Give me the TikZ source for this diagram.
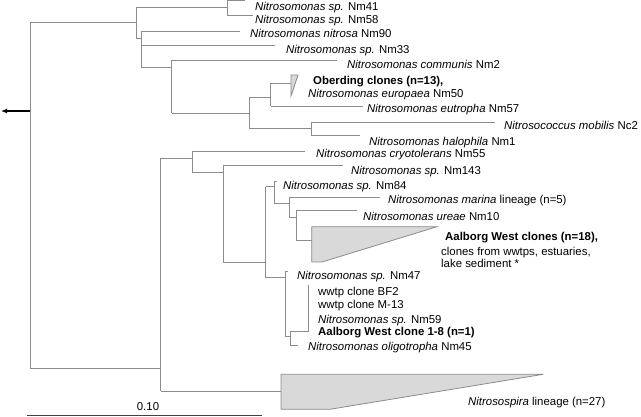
\documentclass[tikz,border=0pt]{standalone}
\usepackage{fontspec}
\setmainfont{Liberation Sans}
\usetikzlibrary{arrows.meta}
\definecolor{treegray}{RGB}{140,140,140}
\definecolor{trifill}{RGB}{217,217,217}
\begin{document}
\begin{tikzpicture}[x=1pt,y=-1pt,
  br/.style={draw=treegray,line width=0.9pt},
  clade/.style={draw=treegray,fill=trifill,line width=0.8pt,line join=miter},
  lab/.style={anchor=base west,inner sep=0pt,font=\fontsize{11.4}{13}\selectfont},
  blab/.style={lab,font=\fontsize{11.4}{13}\selectfont\bfseries}]
\useasboundingbox (0,0) rectangle (641,417);
% root and arrow
\coordinate (root) at (30,111);
\coordinate (out) at (1,111);
\draw[-{Latex[length=6pt,width=5pt]},line width=1.3pt] (root) -- (out);
\draw[br] (30,22.7) -- (30,368);
\draw[br] (30,22.7) -- (136.3,22.7);
\draw[br] (30,368) -- (160.7,368);
% upper clade
\draw[br] (136.3,7.3) -- (136.3,38.3);
\draw[br] (136.3,7.3) -- (227.3,7.3);
\draw[br] (136.3,38.3) -- (141,38.3);
\draw[br] (227.3,0.8) -- (227.3,15);
\draw[br] (227.3,0.8) -- (245,0.8);
\draw[br] (227.3,15) -- (253,15);
\draw[br] (141,31.7) -- (141,67.7);
\draw[br] (141,31.7) -- (240,31.7);
\draw[br] (141,45) -- (275,45);
\draw[br] (141,67.7) -- (171.7,67.7);
\draw[br] (171.7,60.3) -- (171.7,113.3);
\draw[br] (171.7,60.3) -- (337,60.3);
\draw[br] (171.7,113.3) -- (249.3,113.3);
\draw[br] (249.3,97.3) -- (249.3,128.3);
\draw[br] (249.3,97.3) -- (270.7,97.3);
\draw[br] (249.3,128.3) -- (311.3,128.3);
\draw[br] (270.7,83.3) -- (270.7,106);
\draw[br] (270.7,83.3) -- (291,83.3);
\draw[br] (270.7,106) -- (363,106);
\draw[clade] (291,75) -- (298,75) -- (291,96) -- cycle;
\draw[br] (311.3,122.3) -- (311.3,135);
\draw[br] (311.3,122.3) -- (495,122.3);
\draw[br] (311.3,135) -- (360,135);
% lower clade
\draw[br] (160.7,158.3) -- (160.7,391.3);
\draw[br] (160.7,158.3) -- (192.3,158.3);
\draw[br] (160.7,391.3) -- (281,391.3);
\draw[clade] (281,374.3) -- (543.3,374.3) -- (330,409.3) -- (281,409.3) -- cycle;
\draw[br] (192.3,151.7) -- (192.3,172.3);
\draw[br] (192.3,151.7) -- (305,151.7);
\draw[br] (192.3,172.3) -- (223.3,172.3);
\draw[br] (223.3,165) -- (223.3,262.3);
\draw[br] (223.3,165) -- (343,165);
\draw[br] (223.3,262.3) -- (265.7,262.3);
\draw[br] (265.7,186.7) -- (265.7,277.7);
\draw[br] (265.7,186.7) -- (274,186.7);
\draw[br] (265.7,277.7) -- (285,277.7);
\draw[br] (274,181) -- (274,203.3);
\draw[br] (274,181) -- (277,181);
\draw[br] (274,203.3) -- (289.3,203.3);
\draw[br] (289.3,197.3) -- (289.3,217);
\draw[br] (289.3,197.3) -- (380,197.3);
\draw[br] (289.3,217) -- (296.5,217);
\draw[br] (296.5,210) -- (296.5,240.7);
\draw[br] (296.5,210) -- (357,210);
\draw[br] (296.5,240.7) -- (311.7,240.7);
\draw[clade] (311.7,226.7) -- (437,226.7) -- (322,262) -- (311.7,262) -- cycle;
\draw[br] (285,271.7) -- (285,336.7);
\draw[br] (285,271.7) -- (288.3,271.7);
\draw[br] (285,336.7) -- (290,336.7);
\draw[br] (290,331.7) -- (290,345);
\draw[br] (290,331.7) -- (308.3,331.7);
\draw[br] (290,345) -- (298.3,345);
\draw[br] (308.3,285) -- (308.3,331.7);
% scale bar
\coordinate (sbl) at (27,415.7);
\coordinate (sbr) at (262,415.7);
\draw[line width=0.9pt,draw=black!75] (sbl) -- (sbr);
\node[anchor=base,inner sep=0pt,font=\fontsize{11.4}{13}\selectfont] (scale) at (148,410.6) {0.10};
% labels
\node[lab] (n41) at (255,10.1) {\textit{Nitrosomonas sp.} Nm41};
\node[lab] (n58) at (255,23.1) {\textit{Nitrosomonas sp.} Nm58};
\node[lab] (n90) at (250,37.3) {\textit{Nitrosomonas nitrosa} Nm90};
\node[lab] (n33) at (286,53.8) {\textit{Nitrosomonas sp.} Nm33};
\node[lab] (n2) at (347,68.8) {\textit{Nitrosomonas communis} Nm2};
\node[blab] (ober) at (313,84.8) {Oberding clones (n=13),};
\node[lab] (n50) at (308,97.1) {\textit{Nitrosomonas europaea} Nm50};
\node[lab] (n57) at (367,112.3) {\textit{Nitrosomonas eutropha} Nm57};
\node[lab] (nc2) at (504,129.3) {\textit{Nitrosococcus mobilis} Nc2};
\node[lab] (n1) at (369,145.3) {\textit{Nitrosomonas halophila} Nm1};
\node[lab] (n55) at (316,157.8) {\textit{Nitrosomonas cryotolerans} Nm55};
\node[lab] (n143) at (351,174.3) {\textit{Nitrosomonas sp.} Nm143};
\node[lab] (n84) at (283,189.8) {\textit{Nitrosomonas sp.} Nm84};
\node[lab] (marina) at (388,203.8) {\textit{Nitrosomonas marina} lineage (n=5)};
\node[lab] (n10) at (363,220.3) {\textit{Nitrosomonas ureae} Nm10};
\node[blab] (aw1) at (445,240.8) {Aalborg West clones (n=18),};
\node[lab] (aw2) at (441,255.3) {clones from wwtps, estuaries,};
\node[lab] (aw3) at (441,267.6) {lake sediment *};
\node[lab] (n47) at (297,279.1) {\textit{Nitrosomonas sp.} Nm47};
\node[lab] (bf2) at (318,295.1) {wwtp clone BF2};
\node[lab] (m13) at (318,308.8) {wwtp clone M-13};
\node[lab] (n59) at (318,323.3) {\textit{Nitrosomonas sp.} Nm59};
\node[blab] (aw18) at (318,335.6) {Aalborg West clone 1-8 (n=1)};
\node[lab] (n45) at (308,350.1) {\textit{Nitrosomonas oligotropha} Nm45};
\node[lab] (spira) at (468,405.6) {\textit{Nitrosospira} lineage (n=27)};
\end{tikzpicture}
\end{document}
